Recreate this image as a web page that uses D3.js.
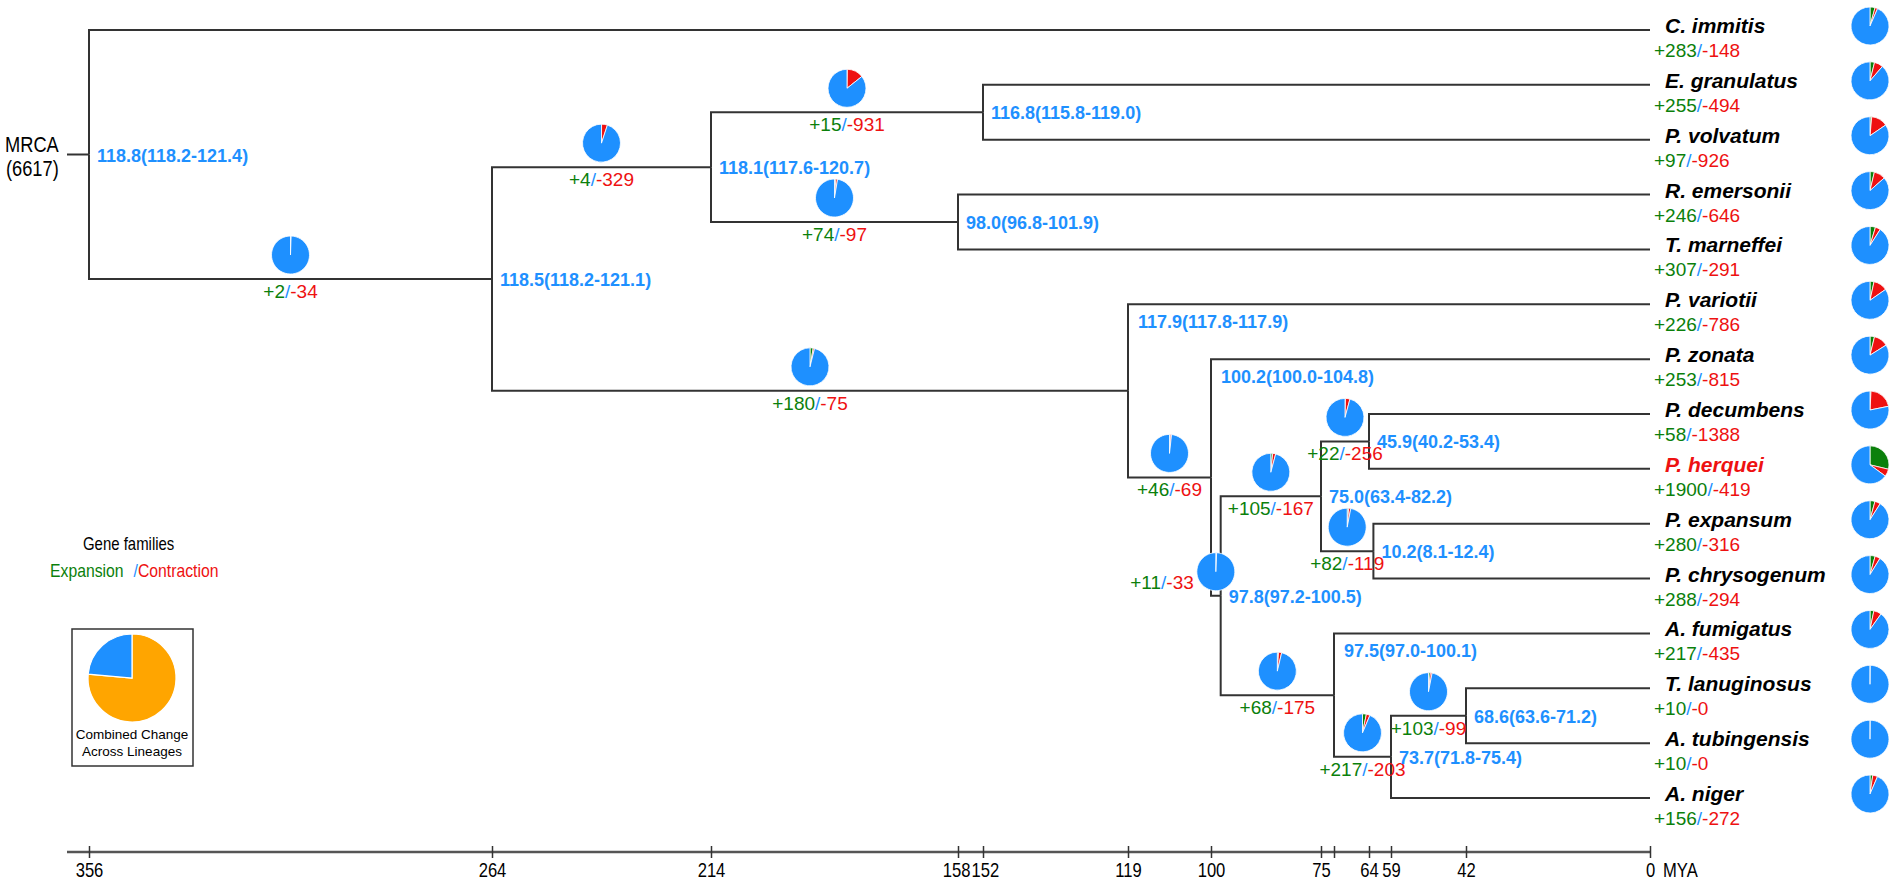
<!DOCTYPE html>
<html>
<head>
<meta charset="utf-8">
<script src="https://cdn.jsdelivr.net/npm/d3@7"></script>
<style>
  body { margin: 0; background: #fff; }
  text { font-family: "Liberation Sans", Arial, sans-serif; }
</style>
</head>
<body>
<div id="chart"></div>
<script>
"use strict";

// leaves, top to bottom
const species = ["C. immitis", "E. granulatus", "P. volvatum", "R. emersonii", "T. marneffei",
  "P. variotii", "P. zonata", "P. decumbens", "P. herquei", "P. expansum", "P. chrysogenum",
  "A. fumigatus", "T. lanuginosus", "A. tubingensis", "A. niger"];
const speciesParents = ["root", "D", "D", "E", "E", "C", "F", "I", "I", "J", "J", "K", "M", "M", "L"];
const speciesGain = [283, 255, 97, 246, 307, 226, 253, 58, 1900, 280, 288, 217, 10, 10, 156];
const speciesLoss = [148, 494, 926, 646, 291, 786, 815, 1388, 419, 316, 294, 435, 0, 0, 272];
const highlighted = "P. herquei";

// internal nodes
const nodeIds = ["root", "A", "B", "D", "E", "C", "F", "G", "H", "I", "J", "K", "L", "M"];
const nodeParents = [null, "root", "A", "B", "B", "A", "C", "F", "G", "H", "H", "G", "K", "L"];
const nodeAges = [356, 264, 214, 152, 158, 119, 100, 97.8, 75, 64, 63, 73.7, 59, 42];
const nodeTimes = ["118.8(118.2-121.4)", "118.5(118.2-121.1)", "118.1(117.6-120.7)",
  "116.8(115.8-119.0)", "98.0(96.8-101.9)", "117.9(117.8-117.9)", "100.2(100.0-104.8)",
  "97.8(97.2-100.5)", "75.0(63.4-82.2)", "45.9(40.2-53.4)", "10.2(8.1-12.4)",
  "97.5(97.0-100.1)", "73.7(71.8-75.4)", "68.6(63.6-71.2)"];
const nodeGain = [null, 2, 4, 15, 74, 180, 46, 11, 105, 22, 82, 68, 217, 103];
const nodeLoss = [null, 34, 329, 931, 97, 75, 69, 33, 167, 256, 119, 175, 203, 99];
const totalFamilies = 6617;

// time axis (schematic, not to scale)
const tickValues = [356, 264, 214, 158, 152, 119, 100, 75, 73.7, 64, 59, 42, 0];
const tickLabels = ["356", "264", "214", "158", "152", "119", "100", "75", "", "64", "59", "42", "0"];

// legend pie
const legendPie = [76.4, 23.6];

const width = 1902, height = 885;
const green = "#0b800b", red = "#ee1111", blue = "#1e90ff", orange = "#ffa500";
const labelBelowTopChild = ["C", "F", "K"];
const squeeze = 0.83; // narrow font look

const svg = d3.select("#chart").append("svg")
  .attr("width", width)
  .attr("height", height);

const x = d3.scaleLinear()
  .domain(tickValues)
  .range([89, 492, 711, 958, 983, 1128, 1211, 1321, 1334, 1369, 1391, 1466, 1650]);

const y = d3.scalePoint()
  .domain(species)
  .range([30, 798]);

function narrowText(px, py, size, str) {
  return svg.append("text")
    .attr("transform", `translate(${px},${py}) scale(${squeeze},1)`)
    .style("font-size", size + "px")
    .text(str);
}

// build the tree
const table = nodeIds.map((id, i) => ({
  id, parent: nodeParents[i], age: nodeAges[i], time: nodeTimes[i],
  gain: nodeGain[i], loss: nodeLoss[i], leaf: false
})).concat(species.map((s, i) => ({
  id: s, parent: speciesParents[i], age: 0, gain: speciesGain[i], loss: speciesLoss[i], leaf: true
})));

const root = d3.stratify().id(d => d.id).parentId(d => d.parent)(table);
root.eachAfter(n => {
  n.px = x(n.data.age);
  if (n.children) {
    const ext = d3.extent(n.children, c => c.py);
    n.py = (ext[0] + ext[1]) / 2;
  } else {
    n.py = y(n.id);
  }
});

const tree = svg.append("g");

tree.selectAll(".link")
  .data(root.descendants().filter(n => n.parent))
  .enter().append("path")
  .attr("class", "link")
  .attr("fill", "none")
  .attr("stroke", "#333")
  .attr("stroke-width", 2)
  .attr("d", n => `M${n.parent.px},${n.parent.py}V${n.py}H${n.px}`);

// root stem
tree.append("line")
  .attr("x1", 67).attr("x2", root.px)
  .attr("y1", root.py).attr("y2", root.py)
  .attr("stroke", "#333").attr("stroke-width", 2);

narrowText(5, root.py - 3, 22, "MRCA");
narrowText(6, root.py + 21, 22, "(6617)");

// pies
const pie = d3.pie().sort(null).value(d => d);
const arc = d3.arc().innerRadius(0).outerRadius(19);
const pieColors = [green, red, blue];

function drawPie(cx, cy, gain, loss) {
  const g = svg.append("g").attr("transform", `translate(${cx},${cy})`);
  g.selectAll("path")
    .data(pie([gain, loss, totalFamilies - gain - loss]))
    .enter().append("path")
    .attr("d", arc)
    .attr("fill", (d, i) => pieColors[i])
    .attr("stroke", "#fff")
    .attr("stroke-width", 0.8);
}

function countLabel(px, py, gain, loss, anchor) {
  const t = svg.append("text")
    .attr("x", px).attr("y", py)
    .attr("text-anchor", anchor)
    .style("font-size", "19px");
  t.append("tspan").attr("fill", green).text("+" + gain);
  t.append("tspan").attr("fill", blue).text("/");
  t.append("tspan").attr("fill", red).text("-" + loss);
}

// branch annotations for internal nodes
root.descendants().filter(n => n.parent && n.children).forEach(n => {
  const mid = (n.parent.px + n.px) / 2;
  drawPie(mid, n.py - 24, n.data.gain, n.data.loss);
  if (n.px - n.parent.px >= 40) {
    countLabel(mid, n.py + 19, n.data.gain, n.data.loss, "middle");
  } else {
    countLabel(mid - 22, n.py - 7, n.data.gain, n.data.loss, "end");
  }
});

// divergence times
root.descendants().filter(n => n.children).forEach(n => {
  let lx = n.px + 8, ly = n.py + 7;
  if (labelBelowTopChild.includes(n.id)) {
    lx = n.px + 10;
    ly = d3.min(n.children, c => c.py) + 24;
  }
  svg.append("text")
    .attr("x", lx).attr("y", ly)
    .attr("fill", blue)
    .style("font-size", "18px")
    .style("font-weight", "bold")
    .text(n.data.time);
});

// leaves
root.leaves().forEach(n => {
  svg.append("text")
    .attr("x", 1665).attr("y", n.py + 3)
    .attr("fill", n.id === highlighted ? red : "#000")
    .style("font-size", "21px")
    .style("font-weight", "bold")
    .style("font-style", "italic")
    .text(n.id);
  countLabel(1654, n.py + 27, n.data.gain, n.data.loss, "start");
  drawPie(1870, n.py - 4, n.data.gain, n.data.loss);
});

// time axis
const axisY = 852;
svg.append("line")
  .attr("x1", 67).attr("x2", x(0))
  .attr("y1", axisY).attr("y2", axisY)
  .attr("stroke", "#555").attr("stroke-width", 2.5);

const axis = svg.append("g")
  .attr("transform", `translate(0,${axisY})`)
  .call(d3.axisBottom(x)
    .tickValues(tickValues)
    .tickFormat((d, i) => tickLabels[i])
    .tickSizeOuter(0));
axis.select(".domain").remove();
axis.selectAll(".tick line").attr("y1", -6).attr("y2", 6).attr("stroke", "#333").attr("stroke-width", 1.5);
const tickText = axis.selectAll(".tick text")
  .attr("y", 25).attr("dy", 0)
  .attr("fill", "#000")
  .attr("transform", `scale(${squeeze},1)`)
  .style("font-family", "'Liberation Sans', Arial, sans-serif")
  .style("font-size", "20px");

// push apart neighbouring tick labels that would collide
const labelled = tickText.nodes()
  .map((node, i) => ({ node, cx: x(tickValues[i]), w: node.getComputedTextLength() * squeeze, off: 0 }))
  .filter(d => d.w > 0);
for (let i = 1; i < labelled.length; i++) {
  const a = labelled[i - 1], b = labelled[i];
  const overlap = (a.cx + a.off + a.w / 2) - (b.cx + b.off - b.w / 2) + 1;
  if (overlap > 0) {
    a.off -= overlap / 2;
    b.off += overlap / 2;
  }
}
labelled.forEach(d => d3.select(d.node).attr("x", d.off / squeeze));

narrowText(1663, axisY + 25, 20, "MYA");

// legend
narrowText(83, 550, 18, "Gene families");
const leg = narrowText(50, 577, 19, null);
leg.append("tspan").attr("fill", green).text("Expansion");
leg.append("tspan").attr("fill", blue).attr("dx", 12).text("/");
leg.append("tspan").attr("fill", red).text("Contraction");

svg.append("rect")
  .attr("x", 72).attr("y", 629)
  .attr("width", 121).attr("height", 137)
  .attr("fill", "none")
  .attr("stroke", "#333").attr("stroke-width", 1.5);

const legendArc = d3.arc().innerRadius(0).outerRadius(44);
svg.append("g")
  .attr("transform", "translate(132,678)")
  .selectAll("path")
  .data(pie(legendPie))
  .enter().append("path")
  .attr("d", legendArc)
  .attr("fill", (d, i) => [orange, blue][i])
  .attr("stroke", "#fff")
  .attr("stroke-width", 1.2);

svg.append("text")
  .attr("x", 132).attr("y", 739)
  .attr("text-anchor", "middle")
  .style("font-size", "13.5px")
  .text("Combined Change");
svg.append("text")
  .attr("x", 132).attr("y", 756)
  .attr("text-anchor", "middle")
  .style("font-size", "13.5px")
  .text("Across Lineages");
</script>
</body>
</html>
